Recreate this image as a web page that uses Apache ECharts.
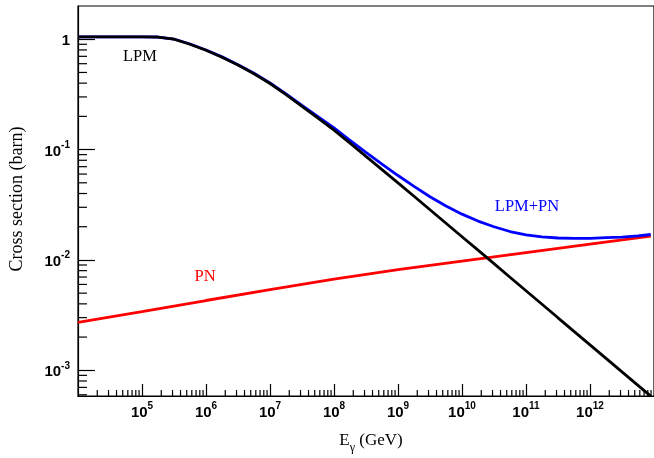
<!DOCTYPE html>
<html><head><meta charset="utf-8">
<script src="https://cdn.jsdelivr.net/npm/echarts@6/dist/echarts.min.js"></script>
<style>html,body{margin:0;padding:0;background:#fff}#c{width:654px;height:458px}</style>
</head><body><div id="c"></div>
<script>
// Photon energy (GeV), quarter-decade readings
const energies = [1e4, 1.78e4, 3.16e4, 5.62e4, 1e5, 1.78e5, 3.16e5, 5.62e5, 1e6, 1.78e6, 3.16e6, 5.62e6, 1e7, 1.78e7, 3.16e7, 5.62e7, 1e8, 1.78e8, 3.16e8, 5.62e8, 1e9, 1.78e9, 3.16e9, 5.62e9, 1e10, 1.78e10, 3.16e10, 5.62e10, 1e11, 1.78e11, 3.16e11, 5.62e11, 1e12, 1.78e12, 3.16e12, 5.62e12, 8.9e12];
// Cross sections (barn)
const lpm   = [1.049, 1.049, 1.049, 1.049, 1.049, 1.043, 1.0, 0.901, 0.795, 0.687, 0.583, 0.486, 0.397, 0.3144, 0.2463, 0.1926, 0.150, 0.1143, 0.0868, 0.0659, 0.0500, 0.0378, 0.0285, 0.0215, 0.01624, 0.01226, 0.00925, 0.00697, 0.00526, 0.00397, 0.00299, 0.002254, 0.001701, 0.001284, 0.000969, 0.000731, 0.000584];
const lpmPn = [1.052, 1.052, 1.052, 1.052, 1.052, 1.047, 1.004, 0.905, 0.799, 0.692, 0.588, 0.491, 0.402, 0.320, 0.252, 0.199, 0.157, 0.1213, 0.0942, 0.0737, 0.0582, 0.0464, 0.0374, 0.0308, 0.0260, 0.0225, 0.0200, 0.0181, 0.0169, 0.0162, 0.0158, 0.0157, 0.0157, 0.0159, 0.0161, 0.0165, 0.0170];
// PN is a straight line on the log-log plot: decade readings
const energiesPn = [1e4, 1e5, 1e6, 1e7, 1e8, 1e9, 1e10, 1e11, 1e12, 8.9e12];
const pn = [0.00272, 0.0034, 0.00429, 0.00538, 0.0067, 0.00817, 0.00975, 0.01164, 0.0139, 0.0164];

const xMin = 1e4, xMax = 1e13;
const yMin = 5.85e-4, yMax = 2;
const xDecades = [4, 5, 6, 7, 8, 9, 10, 11, 12];
const yDecades = [-4, -3, -2, -1, 0];
const minorMultipliers = [2, 3, 4, 5, 6, 7, 8, 9];
const xLabelExps = [5, 6, 7, 8, 9, 10, 11, 12];
const yLabelExps = [-3, -2, -1, 0];

const xMinor = [];
xDecades.forEach(d => minorMultipliers.forEach(m => { const v = m * Math.pow(10, d); if (v > xMin && v < xMax) xMinor.push([v, yMin]); }));
const yMinor = [];
yDecades.forEach(d => minorMultipliers.forEach(m => { const v = m * Math.pow(10, d); if (v > yMin && v < yMax) yMinor.push([xMin, v]); }));

function expOf(v) { const l = Math.log10(v); const e = Math.round(l); return Math.abs(l - e) < 1e-6 ? e : null; }

const richLab = {
  b: { fontFamily: 'Liberation Sans', fontWeight: 'bold', fontSize: 15, color: '#000', lineHeight: 19, verticalAlign: 'bottom' },
  s: { fontFamily: 'Liberation Sans', fontWeight: 'bold', fontSize: 10, color: '#000', lineHeight: 19, verticalAlign: 'top' }
};

const chart = echarts.init(document.getElementById('c'), null, { renderer: 'canvas' });
const lineStyleBase = { width: 2.8 };
chart.setOption({
  animation: false,
  backgroundColor: '#fff',
  grid: { left: 78, right: -3, top: 6, bottom: 62, show: true, borderColor: '#000', borderWidth: 1.2, containLabel: false },
  xAxis: {
    type: 'log', logBase: 10, min: xMin, max: xMax,
    axisLine: { show: true, lineStyle: { color: '#000', width: 1.2 } },
    axisTick: { show: true, inside: true, length: 12, lineStyle: { color: '#000', width: 1.2 } },
    splitLine: { show: false }, minorTick: { show: false },
    axisLabel: {
      margin: 5, showMinLabel: false, showMaxLabel: false,
      formatter: v => { const e = expOf(v); return (e !== null && xLabelExps.includes(e)) ? '{b|10}{s|' + e + '}' : ''; },
      rich: richLab
    }
  },
  yAxis: {
    type: 'log', logBase: 10, min: yMin, max: yMax,
    axisLine: { show: true, lineStyle: { color: '#000', width: 1.2 } },
    axisTick: { show: true, inside: true, length: 17, lineStyle: { color: '#000', width: 1.2 } },
    splitLine: { show: false }, minorTick: { show: false },
    axisLabel: {
      margin: 8, showMinLabel: false, showMaxLabel: false,
      formatter: v => { const e = expOf(v); if (e === null || !yLabelExps.includes(e)) return ''; return e === 0 ? '{b|1}' : '{b|10}{s|' + e + '}'; },
      rich: richLab
    }
  },
  series: [
    { type: 'line', name: 'PN', data: energiesPn.map((e, i) => [e, pn[i]]), showSymbol: false, smooth: false, lineStyle: Object.assign({ color: '#ff0000' }, lineStyleBase), itemStyle: { color: '#ff0000' } },
    { type: 'line', name: 'LPM+PN', data: energies.map((e, i) => [e, lpmPn[i]]), showSymbol: false, smooth: false, lineStyle: Object.assign({ color: '#0000ff' }, lineStyleBase), itemStyle: { color: '#0000ff' } },
    { type: 'line', name: 'LPM', data: energies.map((e, i) => [e, lpm[i]]), showSymbol: false, smooth: false, lineStyle: Object.assign({ color: '#000000' }, lineStyleBase), itemStyle: { color: '#000' } },
    { type: 'custom', silent: true, clip: false, data: xMinor,
      renderItem: (params, api) => { const p = api.coord([api.value(0), api.value(1)]); return { type: 'line', shape: { x1: p[0], y1: p[1], x2: p[0], y2: p[1] - 6 }, style: { stroke: '#000', lineWidth: 1.2 } }; } },
    { type: 'custom', silent: true, clip: false, data: yMinor,
      renderItem: (params, api) => { const p = api.coord([api.value(0), api.value(1)]); return { type: 'line', shape: { x1: p[0], y1: p[1], x2: p[0] + 9, y2: p[1] }, style: { stroke: '#000', lineWidth: 1.2 } }; } }
  ],
  graphic: [
    { type: 'text', x: 17, y: 199, rotation: Math.PI / 2, style: { text: 'Cross section (barn)', font: '18px "Liberation Serif"', fill: '#000', align: 'center', verticalAlign: 'middle' } },
    { type: 'text', x: 371, y: 443, style: { text: '{m|E}{g|γ}{m| (GeV)}', align: 'center', verticalAlign: 'middle', rich: {
        m: { fontFamily: 'Liberation Serif', fontSize: 17, color: '#000', lineHeight: 21, verticalAlign: 'top' },
        g: { fontFamily: 'Liberation Serif', fontSize: 12, color: '#000', lineHeight: 20, verticalAlign: 'bottom' } } } },
    { type: 'text', x: 140, y: 57, style: { text: 'LPM', font: '16.5px "Liberation Serif"', fill: '#000', align: 'center', verticalAlign: 'middle' } },
    { type: 'text', x: 205, y: 277, style: { text: 'PN', font: '16.5px "Liberation Serif"', fill: '#ff0000', align: 'center', verticalAlign: 'middle' } },
    { type: 'text', x: 527, y: 207, style: { text: 'LPM+PN', font: '16.5px "Liberation Serif"', fill: '#0000ff', align: 'center', verticalAlign: 'middle' } }
  ]
});
</script></body></html>
